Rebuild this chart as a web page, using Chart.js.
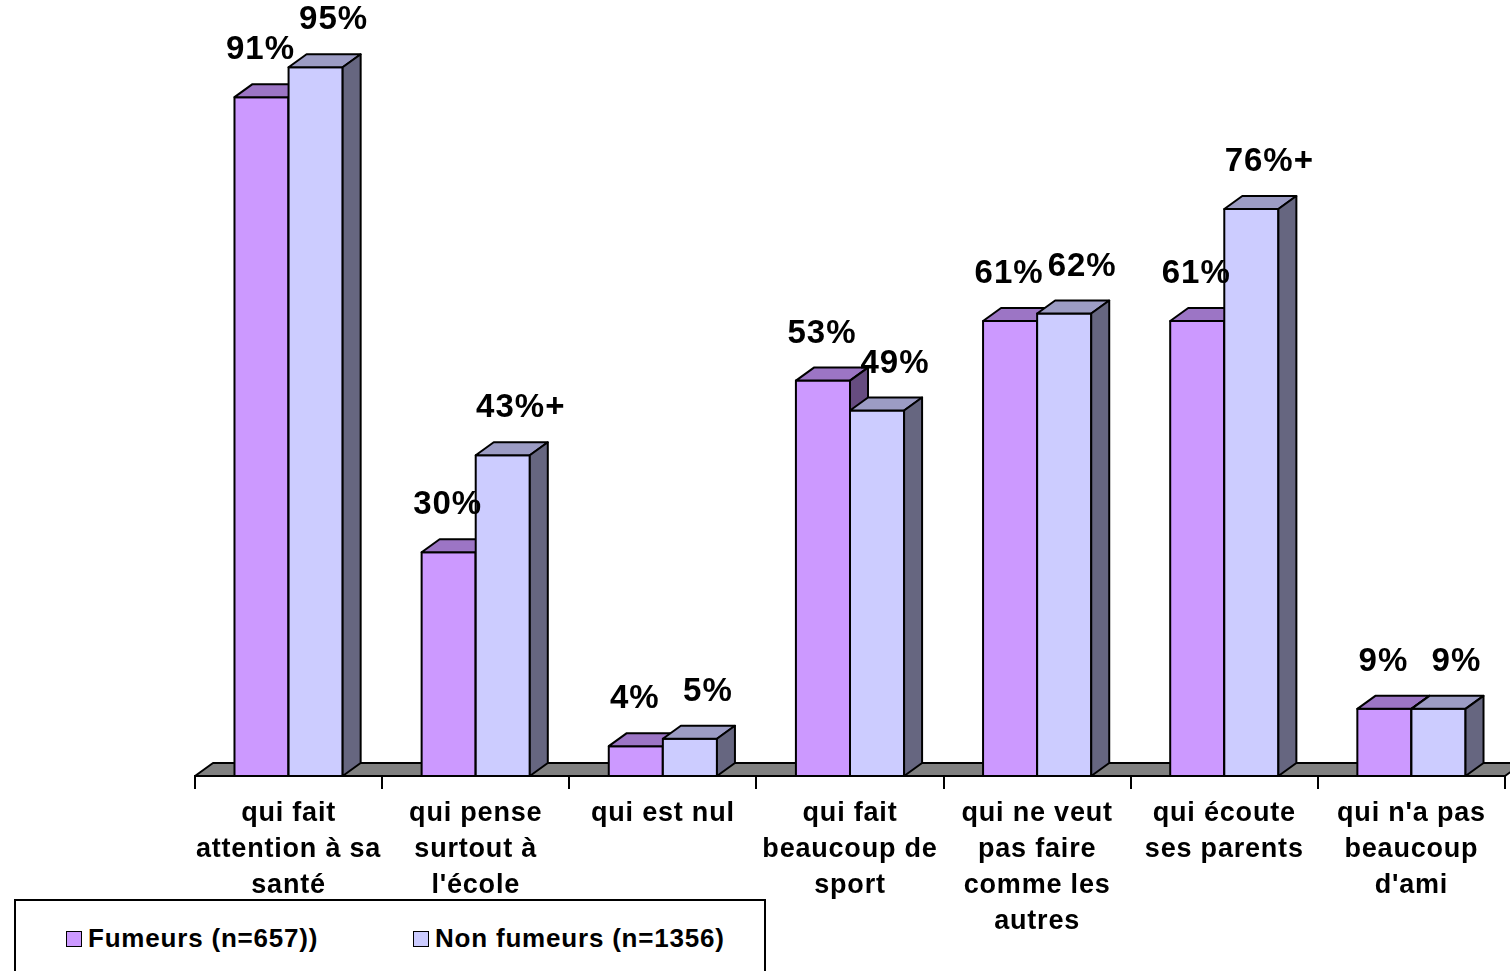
<!DOCTYPE html>
<html>
<head>
<meta charset="utf-8">
<script src="https://cdn.jsdelivr.net/npm/chart.js@4.4.0/dist/chart.umd.min.js"></script>
<style>
    html, body { margin: 0; padding: 0; background: #fff; overflow: hidden; }
    #wrap { position: relative; width: 1510px; height: 971px; }
    #legend {
        position: absolute; left: 14px; top: 899px; width: 752px; height: 90px;
        border: 2px solid #000; box-sizing: border-box; background: #fff;
        font: bold 26px "Liberation Sans", Arial, sans-serif; color: #000;
        letter-spacing: 0.8px;
    }
    .item { position: absolute; top: 22px; display: flex; align-items: center; white-space: nowrap; }
    .sw { width: 14px; height: 14px; border: 1px solid #000; margin-right: 6px; }
</style>
</head>
<body>
<div id="wrap">
    <canvas id="chart" width="1510" height="971"></canvas>
    <div id="legend"></div>
</div>
<script>
// Données
const categories = [
    ['qui fait', 'attention à sa', 'santé'],
    ['qui pense', 'surtout à', "l'école"],
    ['qui est nul'],
    ['qui fait', 'beaucoup de', 'sport'],
    ['qui ne veut', 'pas faire', 'comme les', 'autres'],
    ['qui écoute', 'ses parents'],
    ["qui n'a pas", 'beaucoup', "d'ami"]
];
const fumeurs = [91, 30, 4, 53, 61, 61, 9];
const nonFumeurs = [95, 43, 5, 49, 62, 76, 9];
const fumeursMarks = ['', '', '', '', '', '', ''];
const nonFumeursMarks = ['', '+', '', '', '', '+', ''];
const seriesLabels = ['Fumeurs (n=657))', 'Non fumeurs (n=1356)'];

const FRONT = ['#CC99FF', '#CCCCFF'];
const TOP = ['#9C75C5', '#9C9CC4'];
const SIDE = ['#664C80', '#666680'];
const DX = 18, DY = -13;
const FONT = '"Liberation Sans", Arial, sans-serif';

function poly(ctx, pts, fill) {
    ctx.beginPath();
    ctx.moveTo(pts[0][0], pts[0][1]);
    for (let k = 1; k < pts.length; k++) ctx.lineTo(pts[k][0], pts[k][1]);
    ctx.closePath();
    ctx.fillStyle = fill;
    ctx.fill();
    ctx.stroke();
}

// dessin des barres en 3D (face, dessus, côté) dans le bon ordre
const bar3d = {
    id: 'bar3d',
    beforeDraw(chart) {
        // le texte de l'original est un peu espacé
        chart.ctx.letterSpacing = '0.8px';
    },
    beforeDatasetsDraw(chart) {
        const ctx = chart.ctx, a = chart.chartArea;
        ctx.save();
        ctx.lineWidth = 2;
        ctx.strokeStyle = '#000';
        ctx.lineJoin = 'round';
        poly(ctx, [[a.left, a.bottom], [a.right, a.bottom], [a.right + DX, a.bottom + DY], [a.left + DX, a.bottom + DY]], '#808080');
        ctx.restore();
    },
    beforeDatasetDraw() {
        return false;
    },
    afterDatasetsDraw(chart) {
        const ctx = chart.ctx;
        const marks = [fumeursMarks, nonFumeursMarks];
        ctx.save();
        ctx.lineWidth = 2;
        ctx.strokeStyle = '#000';
        ctx.lineJoin = 'round';
        const labels = [];
        for (let j = 0; j < categories.length; j++) {
            for (let i = 0; i < chart.data.datasets.length; i++) {
                const el = chart.getDatasetMeta(i).data[j];
                const { x, y, base, width } = el.getProps(['x', 'y', 'base', 'width'], true);
                const l = x - width / 2, r = x + width / 2;
                poly(ctx, [[l, y], [r, y], [r, base], [l, base]], FRONT[i]);
                poly(ctx, [[l, y], [r, y], [r + DX, y + DY], [l + DX, y + DY]], TOP[i]);
                poly(ctx, [[r, y], [r + DX, y + DY], [r + DX, base + DY], [r, base]], SIDE[i]);
                const v = chart.data.datasets[i].data[j];
                labels.push([v + '%' + marks[i][j], x + (i === 0 ? -1 : 18), y - 47]);
            }
        }
        ctx.fillStyle = '#000';
        ctx.font = 'bold 33px ' + FONT;
        ctx.letterSpacing = '1px';
        ctx.textAlign = 'center';
        ctx.textBaseline = 'middle';
        labels.forEach(([t, lx, ly]) => ctx.fillText(t, lx, ly));
        ctx.restore();
    }
};

const chart = new Chart(document.getElementById('chart'), {
    type: 'bar',
    data: {
        labels: categories,
        datasets: [
            { label: seriesLabels[0], data: fumeurs, backgroundColor: FRONT[0] },
            { label: seriesLabels[1], data: nonFumeurs, backgroundColor: FRONT[1] }
        ]
    },
    plugins: [bar3d],
    options: {
        responsive: false,
        animation: false,
        events: [],
        layout: { padding: { left: 195, right: 5, top: 30, bottom: 0 } },
        datasets: { bar: { categoryPercentage: 0.578, barPercentage: 1 } },
        plugins: { legend: { display: false }, tooltip: { enabled: false } },
        scales: {
            x: {
                offset: true,
                afterFit: s => { s.height = 195; },
                grid: { display: true, offset: true, drawOnChartArea: false, drawTicks: true, tickLength: 13, color: '#000', lineWidth: 2 },
                border: { display: true, color: '#000', width: 2 },
                ticks: {
                    color: '#000', maxRotation: 0, minRotation: 0, autoSkip: false, padding: 7,
                    font: { family: FONT, size: 27, weight: 'bold', lineHeight: 1.333 }
                }
            },
            y: { display: false, min: 0, max: 100 }
        }
    }
});

// légende
const legend = document.getElementById('legend');
[50, 397].forEach((left, i) => {
    const item = document.createElement('div');
    item.className = 'item';
    item.style.left = left + 'px';
    item.innerHTML = '<span class="sw" style="background:' + FRONT[i] + '"></span>' + seriesLabels[i];
    legend.appendChild(item);
});
</script>
</body>
</html>
